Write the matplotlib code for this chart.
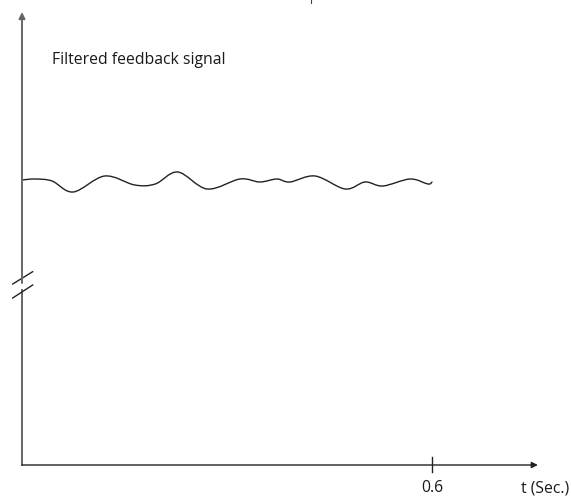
import matplotlib
matplotlib.use("Agg")
import matplotlib.pyplot as plt
from matplotlib.path import Path
from matplotlib.patches import PathPatch

# Signal samples (time in s, arbitrary signal units)
t_vals = [0.000, 0.019, 0.044, 0.075, 0.121, 0.165, 0.195,
          0.228, 0.271, 0.319, 0.348, 0.373, 0.392,
          0.429, 0.473, 0.502, 0.528, 0.568, 0.594, 0.600]
signal = [2.85, 2.86, 2.84, 2.73, 2.89, 2.80, 2.81,
          2.93, 2.76, 2.86, 2.83, 2.86, 2.83,
          2.89, 2.76, 2.83, 2.79, 2.86, 2.81, 2.83]

x_ticks = [0.6]
x_tick_labels = ["0.6"]
x_label = "t (Sec.)"
title_text = "Filtered feedback signal"

FONT = "Open Sans"
FS = 11.3
TXT = "#1a1a1a"

fig = plt.figure(figsize=(5.71, 5.02), dpi=100)
ax = fig.add_axes([0, 0, 1, 1])
ax.set_xlim(-22 / 683.3, 549 / 683.3)
ax.set_ylim(-0.36, 4.66)
ax.axis("off")

# wave drawn as a smooth Bezier path through the read samples
verts = [(t_vals[0], signal[0])]
codes = [Path.MOVETO]
n = len(t_vals)
for i in range(n - 1):
    p0 = (t_vals[max(i - 1, 0)], signal[max(i - 1, 0)])
    p1 = (t_vals[i], signal[i])
    p2 = (t_vals[i + 1], signal[i + 1])
    p3 = (t_vals[min(i + 2, n - 1)], signal[min(i + 2, n - 1)])
    c1 = (p1[0] + (p2[0] - p0[0]) / 6, p1[1] + (p2[1] - p0[1]) / 6)
    c2 = (p2[0] - (p3[0] - p1[0]) / 6, p2[1] - (p3[1] - p1[1]) / 6)
    verts += [c1, c2, p2]
    codes += [Path.CURVE4] * 3
ax.add_patch(PathPatch(Path(verts, codes), facecolor="none", edgecolor="#222222",
                       lw=1.0, capstyle="round", joinstyle="round"))

# y axis with break
ax.plot([0, 0], [0, 1.75], color="#666666", lw=1.4)
ax.annotate("", xy=(0, 4.53), xytext=(0, 1.82),
            arrowprops=dict(arrowstyle="-|>", mutation_scale=9, lw=1.4,
                            color="#666666", shrinkA=0, shrinkB=0))
# break slashes
ax.plot([-0.0136, 0.0156], [1.81, 1.933], color="#222222", lw=1.0)
ax.plot([-0.0136, 0.0156], [1.67, 1.80], color="#222222", lw=1.0)

# x axis
ax.annotate("", xy=(0.755, 0.0), xytext=(0, 0.0),
            arrowprops=dict(arrowstyle="-|>", mutation_scale=9, lw=1.0,
                            color="#222222", shrinkA=0, shrinkB=0))
for xt, lab in zip(x_ticks, x_tick_labels):
    ax.plot([xt, xt], [0.08, -0.07], color="#222222", lw=1.0)
    ax.text(xt, -0.225, lab, ha="center", va="center", fontsize=FS, family=FONT, color=TXT)

ax.text(0.766, -0.225, x_label, ha="center", va="center", fontsize=FS, family=FONT, color=TXT)
ax.text(0.0439, 4.06, title_text, ha="left", va="center", fontsize=FS, family=FONT, color=TXT)

# tiny mark at the top edge
ax.plot([0.423, 0.423], [4.66, 4.62], color="#444444", lw=0.8)

fig.savefig("out.png", dpi=100)
